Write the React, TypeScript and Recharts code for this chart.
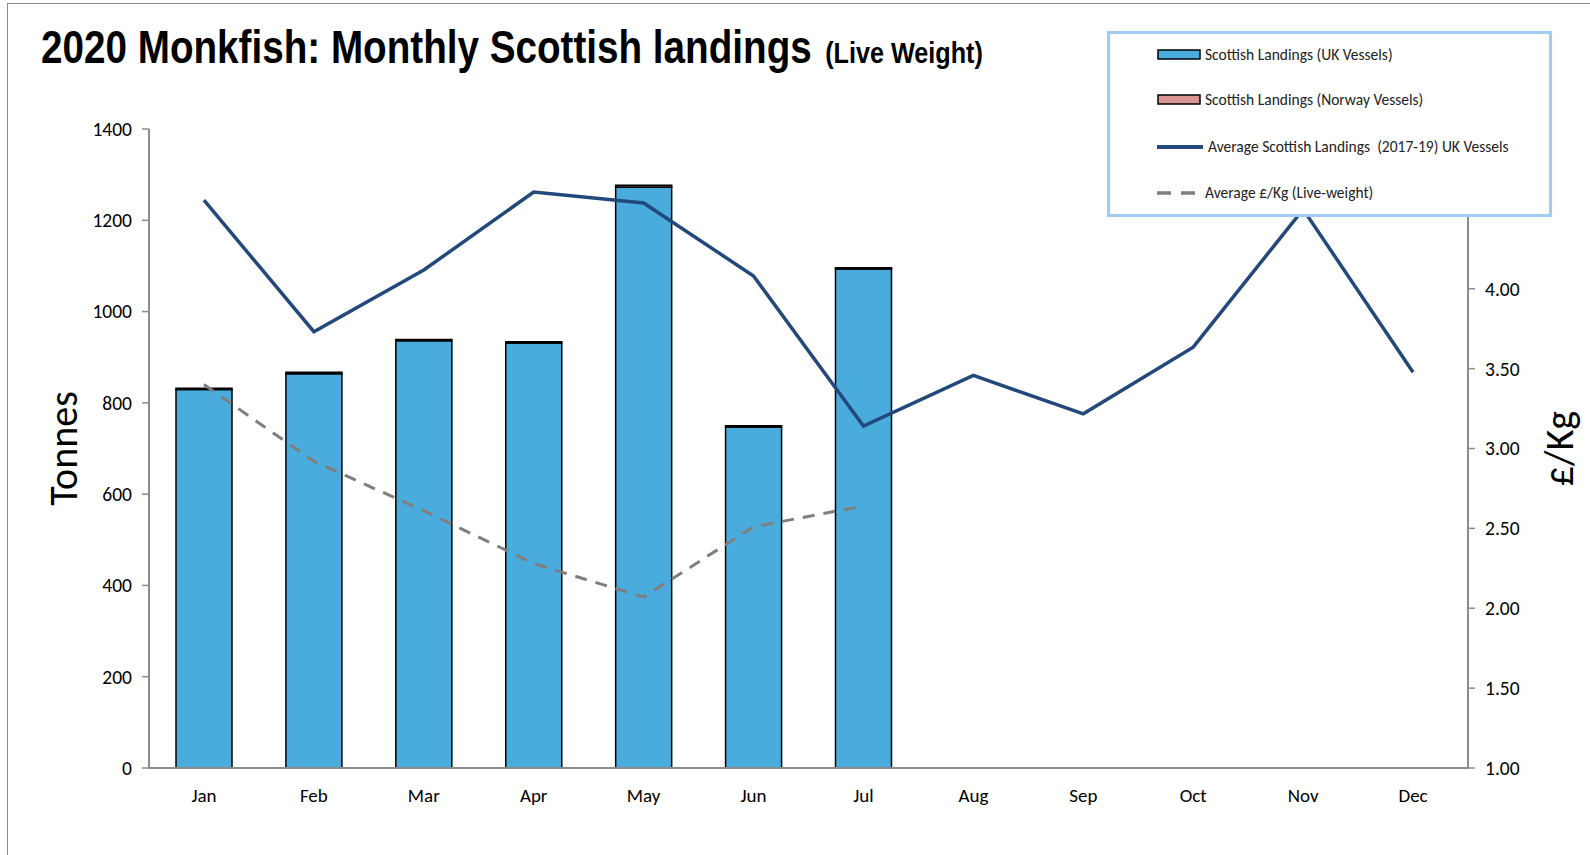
import {
	Bar,
	ComposedChart,
	Legend,
	Line,
	XAxis,
	YAxis,
} from "recharts";

const months = ["Jan", "Feb", "Mar", "Apr", "May", "Jun", "Jul", "Aug", "Sep", "Oct", "Nov", "Dec"];
const ukLandings = [829, 864, 936, 931, 1273, 747, 1093, null, null, null, null, null];
const norwayLandings = [3, 3, 3, 3, 4, 3, 3, null, null, null, null, null];
const avgLandings = [1244, 956, 1091, 1262, 1238, 1078, 749, 860, 776, 922, 1224, 867];
const pricePerKg = [3.4, 2.92, 2.61, 2.28, 2.07, 2.51, 2.64, null, null, null, null, null];
const tonnesTicks = [0, 200, 400, 600, 800, 1000, 1200, 1400];
// 4.50 and 5.00 sit behind the legend box in the original
const priceTicks = [1, 1.5, 2, 2.5, 3, 3.5, 4];

const data = months.map((m, i) => ({
	month: m,
	uk: ukLandings[i],
	norway: norwayLandings[i],
	avg: avgLandings[i],
	price: pricePerKg[i],
}));

const FONT = "Carlito, Lato, 'Open Sans', sans-serif";
const AXIS_GREY = "#8c8c8c";
const BAR_BLUE = "#4aacdd";
const NORWAY_PINK = "#d99694";
const AVG_BLUE = "#23497c";
const PRICE_GREY = "#7f7f7f";

function LegendBox() {
	const rowText = { fontSize: 15.5, fill: "#222", fontFamily: FONT };
	return (
		<svg width={445} height={186} style={{ display: "block" }}>
			<rect x={1.5} y={1.5} width={442} height={183} fill="#fff" stroke="#9fcbf4" strokeWidth={3} />
			<rect x={51} y={19} width={42} height={9} fill={BAR_BLUE} stroke="#000" strokeWidth={1.5} />
			<text x={98} y={29} {...rowText}>Scottish Landings (UK Vessels)</text>
			<rect x={51} y={64} width={42} height={9} fill={NORWAY_PINK} stroke="#000" strokeWidth={1.5} />
			<text x={98} y={74} {...rowText}>Scottish Landings (Norway Vessels)</text>
			<line x1={50} x2={96} y1={116} y2={116} stroke={AVG_BLUE} strokeWidth={4} />
			<text x={101} y={121} {...rowText} style={{ whiteSpace: "pre" }}>Average Scottish Landings  (2017-19) UK Vessels</text>
			<line x1={50} x2={98} y1={162} y2={162} stroke={PRICE_GREY} strokeWidth={3.5} strokeDasharray="14 10" />
			<text x={98} y={167} {...rowText}>Average £/Kg (Live-weight)</text>
		</svg>
	);
}

function axisTitle(text: string, shift: number) {
	return ({ viewBox }: any) => {
		const cx = viewBox.x + shift;
		const cy = viewBox.y + viewBox.height / 2;
		return (
			<text
				x={cx}
				y={cy}
				transform={`rotate(-90 ${cx} ${cy})`}
				textAnchor="middle"
				dominantBaseline="central"
				fontSize={40}
				fontFamily={FONT}
				fill="#000"
			>
				{text}
			</text>
		);
	};
}

export default function App() {
	return (
		<div
			style={{
				position: "absolute",
				left: 0,
				top: 0,
				width: 1590,
				height: 855,
				background: "#fff",
				overflow: "hidden",
			}}
		>
			<div
				style={{
					position: "absolute",
					left: 7,
					top: 3,
					width: 1600,
					height: 860,
					borderTop: "1.5px solid #8a8a8a",
					borderLeft: "1.5px solid #8a8a8a",
				}}
			/>
			<div
				style={{
					position: "absolute",
					left: 41,
					top: 24,
					lineHeight: "46px",
					fontFamily: "'Liberation Sans', Arial, sans-serif",
					fontWeight: 700,
					fontSize: 46,
					color: "#000",
					whiteSpace: "nowrap",
					transform: "scaleX(0.84)",
					transformOrigin: "0 0",
				}}
			>
				2020 Monkfish: Monthly Scottish landings
				<span style={{ fontSize: 30, marginLeft: 16 }}>(Live Weight)</span>
			</div>
			<div style={{ position: "absolute", left: 0, top: 0 }}>
				<ComposedChart
					width={1590}
					height={855}
					data={data}
					margin={{ top: 129, right: 42, bottom: 47, left: 69 }}
				>
					<XAxis
						dataKey="month"
						height={40}
						tickLine={false}
						axisLine={{ stroke: AXIS_GREY, strokeWidth: 2 }}
						tick={{ fontSize: 19, fill: "#000", fontFamily: FONT }}
						tickMargin={15}
						interval={0}
					/>
					<YAxis
						yAxisId="left"
						width={80}
						domain={[0, 1400]}
						ticks={tonnesTicks}
						interval={0}
						tickSize={7}
						tickLine={{ stroke: AXIS_GREY, strokeWidth: 1.5 }}
						axisLine={{ stroke: AXIS_GREY, strokeWidth: 2 }}
						tick={{ fontSize: 19.5, fill: "#000", fontFamily: FONT }}
						tickMargin={10}
						label={{ content: axisTitle("Tonnes", -6) }}
					/>
					<YAxis
						yAxisId="right"
						orientation="right"
						width={80}
						domain={[1, 5]}
						ticks={priceTicks}
						interval={0}
						tickSize={7}
						tickFormatter={(v: number) => v.toFixed(2)}
						tickLine={{ stroke: AXIS_GREY, strokeWidth: 1.5 }}
						axisLine={{ stroke: AXIS_GREY, strokeWidth: 2 }}
						tick={{ fontSize: 19.5, fill: "#000", fontFamily: FONT }}
						tickMargin={10}
						label={{ content: axisTitle("£/Kg", 91) }}
					/>
					<Bar
						yAxisId="left"
						dataKey="uk"
						stackId="landings"
						barSize={56}
						fill={BAR_BLUE}
						stroke="#000"
						strokeWidth={1.5}
						isAnimationActive={false}
					/>
					<Bar
						yAxisId="left"
						dataKey="norway"
						stackId="landings"
						barSize={56}
						fill={NORWAY_PINK}
						stroke="#000"
						strokeWidth={1.5}
						isAnimationActive={false}
					/>
					<Line
						yAxisId="left"
						type="linear"
						dataKey="avg"
						stroke={AVG_BLUE}
						strokeWidth={3.5}
						dot={false}
						activeDot={false}
						isAnimationActive={false}
					/>
					<Line
						yAxisId="right"
						type="linear"
						dataKey="price"
						stroke={PRICE_GREY}
						strokeWidth={3}
						strokeDasharray="12 9"
						dot={false}
						activeDot={false}
						isAnimationActive={false}
					/>
					<Legend
						layout="horizontal"
						verticalAlign="middle"
						align="center"
						content={() => <LegendBox />}
						wrapperStyle={{ position: "absolute", left: 1107, top: 31, width: 445, height: 186 }}
					/>
				</ComposedChart>
			</div>
		</div>
	);
}
